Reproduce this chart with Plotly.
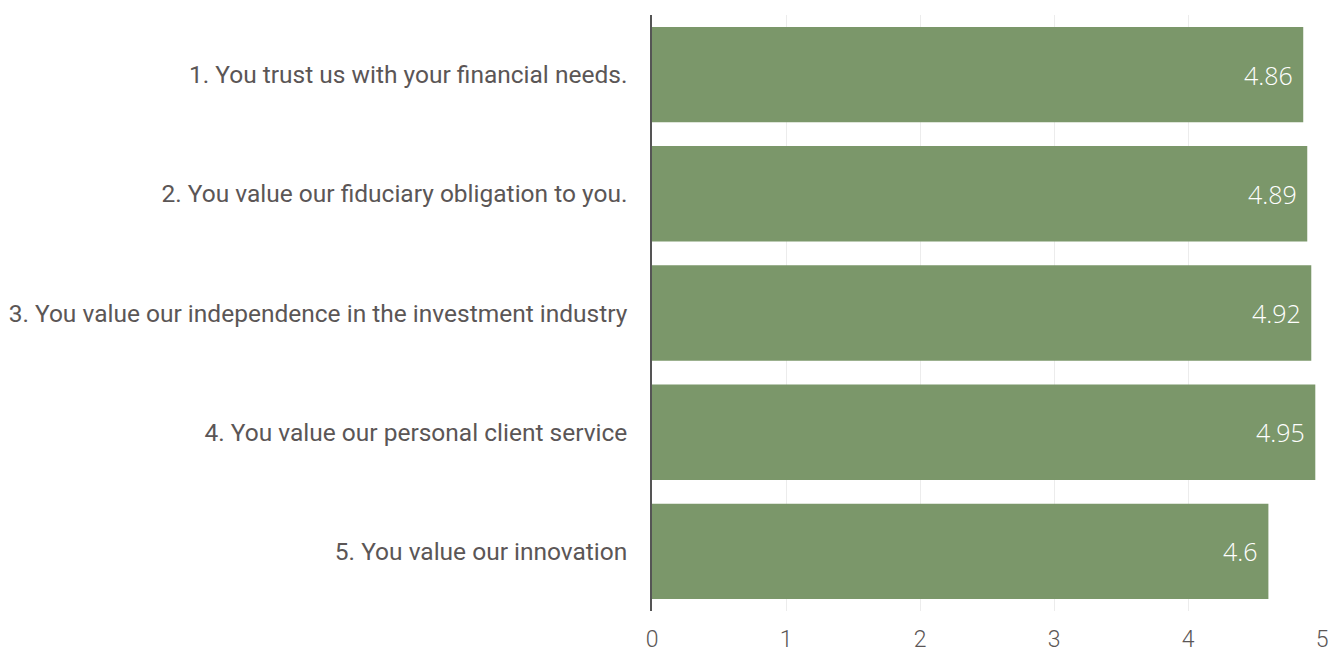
import plotly.graph_objects as go

statements = [
    "1. You trust us with your financial needs.",
    "2. You value our fiduciary obligation to you.",
    "3. You value our independence in the investment industry",
    "4. You value our personal client service",
    "5. You value our innovation",
]
scores = [4.86, 4.89, 4.92, 4.95, 4.6]
x_ticks = [0, 1, 2, 3, 4, 5]

label_color = "#5b5656"
bar_color = "#7b976a"

fig = go.Figure(
    go.Bar(
        x=scores,
        y=statements,
        orientation="h",
        marker=dict(color=bar_color, line=dict(width=0)),
        hoverinfo="x+y",
    )
)

# value labels placed just inside the end of each bar
for s, v in zip(statements, scores):
    fig.add_annotation(
        x=v,
        y=s,
        xref="x",
        yref="y",
        text=f"{v:g}",
        showarrow=False,
        xanchor="right",
        yanchor="middle",
        xshift=-8,
        font=dict(family="Open Sans", size=25, color="#ffffff", weight=300),
    )

fig.update_layout(
    width=1338,
    height=654,
    margin=dict(l=652, r=16, t=15, b=43),
    paper_bgcolor="#ffffff",
    plot_bgcolor="#ffffff",
    bargap=0.2,
    showlegend=False,
    font=dict(family="Roboto", size=24.5, color=label_color),
)

fig.update_xaxes(
    range=[0, 5],
    tickvals=x_ticks,
    automargin=False,
    showgrid=True,
    gridcolor="#ececec",
    gridwidth=1,
    zeroline=False,
    showline=False,
    ticks="outside",
    ticklen=7,
    tickcolor="rgba(0,0,0,0)",
    tickfont=dict(family="Roboto", size=23, color=label_color, weight=300),
)

fig.update_yaxes(
    autorange="reversed",
    automargin=False,
    showgrid=False,
    showline=True,
    linecolor="#555555",
    linewidth=1.5,
    ticks="outside",
    ticklen=18,
    tickcolor="rgba(0,0,0,0)",
    tickfont=dict(family="Roboto", size=24.5, color=label_color),
)

fig.write_html("out.html")
